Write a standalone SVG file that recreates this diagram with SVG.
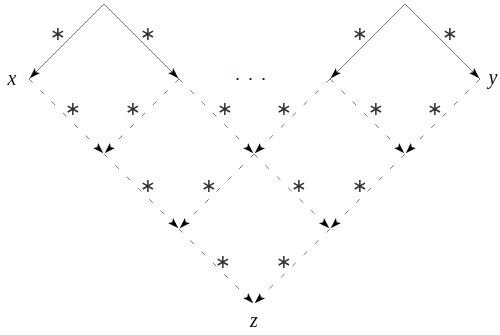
<svg xmlns="http://www.w3.org/2000/svg" width="500" height="335" viewBox="0 0 500 335">
<style>
.e{stroke:#555;stroke-width:0.8;fill:none}
.d{stroke-dasharray:5 11}
.lab{font-family:"Liberation Serif","DejaVu Serif",serif;font-style:italic;font-size:20px;fill:#111;text-anchor:middle}
.ast{font-family:"DejaVu Sans","Liberation Sans",sans-serif;font-size:19px;fill:#333;text-anchor:middle;dominant-baseline:central}
.g{filter:url(#gray)}
</style>
<defs>
<filter id="gray" x="-20%" y="-20%" width="140%" height="140%"><feColorMatrix type="saturate" values="0"/></filter>
<marker id="ah" markerUnits="userSpaceOnUse" viewBox="0 -5 14 10" refX="12" refY="0" markerWidth="14" markerHeight="10" orient="auto">
<path d="M0,-3.6 L11,0 L0,3.6 L2.5,0 Z" fill="#000"/>
</marker>
</defs>
<rect width="500" height="335" fill="#fff"/>
<g id="connectors" marker-end="url(#ah)">
<line class="e" x1="104" y1="4" x2="29" y2="79"/>
<line class="e" x1="104" y1="4" x2="179" y2="79"/>
<line class="e" x1="405" y1="4" x2="330" y2="79"/>
<line class="e" x1="405" y1="4" x2="480" y2="79"/>
<line class="e d" x1="29" y1="79" x2="104" y2="154"/>
<line class="e d" x1="179" y1="79" x2="104" y2="154"/>
<line class="e d" x1="179" y1="79" x2="254" y2="154"/>
<line class="e d" x1="330" y1="79" x2="254" y2="154"/>
<line class="e d" x1="330" y1="79" x2="405" y2="154"/>
<line class="e d" x1="480" y1="79" x2="405" y2="154"/>
<line class="e d" x1="104" y1="154" x2="179" y2="229"/>
<line class="e d" x1="254" y1="154" x2="179" y2="229"/>
<line class="e d" x1="254" y1="154" x2="330" y2="229"/>
<line class="e d" x1="405" y1="154" x2="330" y2="229"/>
<line class="e d" x1="179" y1="229" x2="254" y2="304"/>
<line class="e d" x1="330" y1="229" x2="254" y2="304"/>
</g>
<g id="edge-labels" class="g">
<text class="ast" x="58" y="33">∗</text>
<text class="ast" x="148" y="33">∗</text>
<text class="ast" x="360" y="33">∗</text>
<text class="ast" x="450" y="33">∗</text>
<text class="ast" x="73" y="108">∗</text>
<text class="ast" x="133" y="108">∗</text>
<text class="ast" x="225" y="108">∗</text>
<text class="ast" x="284" y="108">∗</text>
<text class="ast" x="376" y="108">∗</text>
<text class="ast" x="435" y="108">∗</text>
<text class="ast" x="148" y="185">∗</text>
<text class="ast" x="209" y="185">∗</text>
<text class="ast" x="299" y="185">∗</text>
<text class="ast" x="360" y="185">∗</text>
<text class="ast" x="223" y="261">∗</text>
<text class="ast" x="284" y="261">∗</text>
</g>
<g id="node-x" class="g"><text class="lab" x="12" y="85">x</text></g>
<g id="node-y" class="g"><text class="lab" x="493" y="84">y</text></g>
<g id="node-z" class="g"><text class="lab" x="254" y="327">z</text></g>
<g id="node-dots"><text x="254" y="84" font-family="Liberation Sans,sans-serif" font-size="18" fill="#111" text-anchor="middle" letter-spacing="7">···</text></g>
</svg>
